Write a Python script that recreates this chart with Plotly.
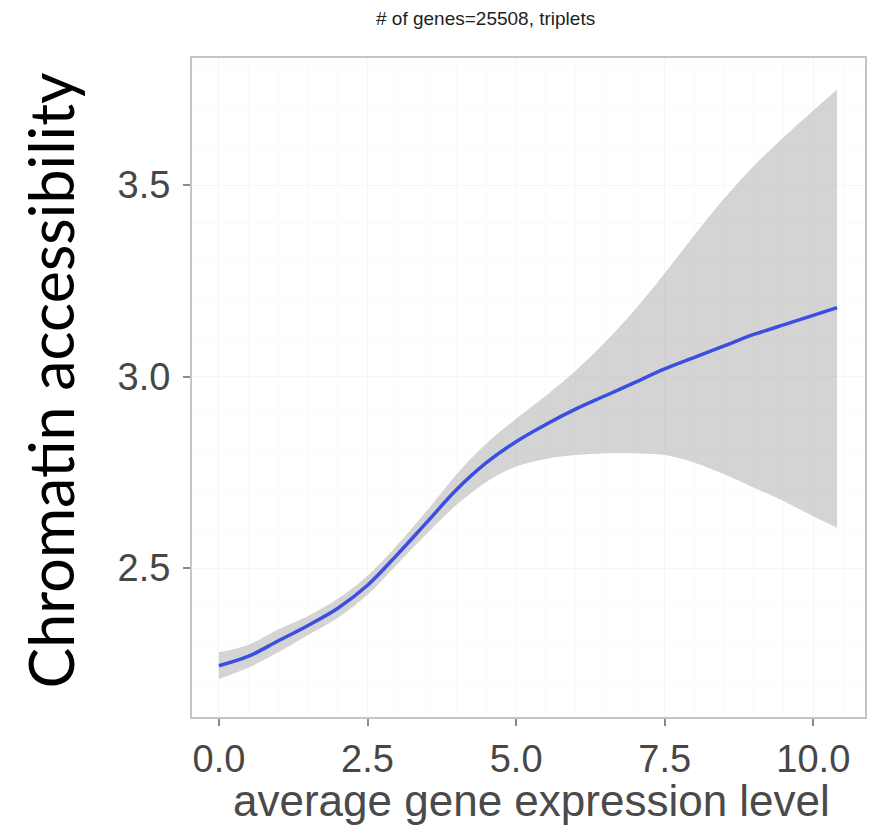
import plotly.graph_objects as go

# Data (LOESS-like smooth with confidence band)
x_vals = [0, 0.5, 1, 1.5, 2, 2.5, 3, 3.5, 4, 4.5, 5, 5.5, 6, 6.5, 7, 7.5, 8, 8.5, 9, 9.5, 10, 10.4]
y_mean = [2.245, 2.27, 2.31, 2.35, 2.395, 2.455, 2.535, 2.62, 2.705, 2.775, 2.83, 2.875, 2.915, 2.95, 2.985, 3.02, 3.05, 3.08, 3.11, 3.135, 3.16, 3.18]
y_upper = [2.28, 2.30, 2.34, 2.375, 2.42, 2.48, 2.56, 2.65, 2.745, 2.825, 2.89, 2.95, 3.015, 3.09, 3.175, 3.27, 3.37, 3.465, 3.55, 3.625, 3.695, 3.75]
y_lower = [2.21, 2.24, 2.28, 2.325, 2.37, 2.43, 2.51, 2.59, 2.665, 2.725, 2.765, 2.785, 2.795, 2.80, 2.80, 2.795, 2.775, 2.745, 2.71, 2.675, 2.635, 2.605]

x_ticks = [0, 2.5, 5, 7.5, 10]
x_ticklabels = ["0.0", "2.5", "5.0", "7.5", "10.0"]
y_ticks = [2.5, 3.0, 3.5]
y_ticklabels = ["2.5", "3.0", "3.5"]

title_text = "# of genes=25508, triplets"
x_title = "average gene expression level"
y_title = "Chromatin accessibility"

fig = go.Figure()
fig.add_trace(go.Scatter(x=x_vals, y=y_lower, mode="lines",
                         line=dict(width=0, shape="spline"), hoverinfo="skip", showlegend=False))
fig.add_trace(go.Scatter(x=x_vals, y=y_upper, mode="lines", fill="tonexty",
                         fillcolor="rgba(153,153,153,0.42)",
                         line=dict(width=0, shape="spline"), hoverinfo="skip", showlegend=False))
fig.add_trace(go.Scatter(x=x_vals, y=y_mean, mode="lines",
                         line=dict(color="#3a4fe0", width=3.5, shape="spline"), showlegend=False))

W, H = 874, 827
L, R, T, B = 192, 7, 58, 110
pw, ph = W - L - R, H - T - B

def px_x(p):
    return (p - L) / pw

def px_y(p):
    return (H - B - p) / ph

axis_common = dict(showline=True, mirror=True, linecolor="#c4c4c4", linewidth=2,
                   ticks="outside", ticklen=7, tickwidth=2, tickcolor="#8a8a8a",
                   showgrid=True, gridcolor="#f6f6f6", gridwidth=1, zeroline=False,
                   tickfont=dict(family="Liberation Sans, Arial", size=38, color="#474747"),
                   minor=dict(showgrid=True, gridcolor="#fafafa"))

fig.update_layout(
    width=W, height=H,
    margin=dict(l=L, r=R, t=T, b=B),
    paper_bgcolor="white", plot_bgcolor="white",
    xaxis=dict(range=[-0.453, 10.87], tickvals=x_ticks, ticktext=x_ticklabels, **axis_common),
    yaxis=dict(range=[2.111, 3.832], tickvals=y_ticks, ticktext=y_ticklabels,
               ticklabelstandoff=5, **axis_common),
    annotations=[
        dict(text=title_text, xref="paper", yref="paper", x=px_x(486), y=px_y(18),
             xanchor="center", yanchor="middle", showarrow=False,
             font=dict(family="Liberation Sans, Arial", size=19, color="#222222")),
        dict(text=x_title, xref="paper", yref="paper", x=px_x(533), y=px_y(800),
             xanchor="center", yanchor="middle", showarrow=False,
             font=dict(family="Liberation Sans, Arial", size=44, color="#4a4a4a")),
        dict(text=y_title, xref="paper", yref="paper", x=px_x(50), y=px_y(380),
             xanchor="center", yanchor="middle", showarrow=False, textangle=-90,
             font=dict(family="Lato", size=61, color="#000000")),
    ],
)

fig.write_html("out.html")
